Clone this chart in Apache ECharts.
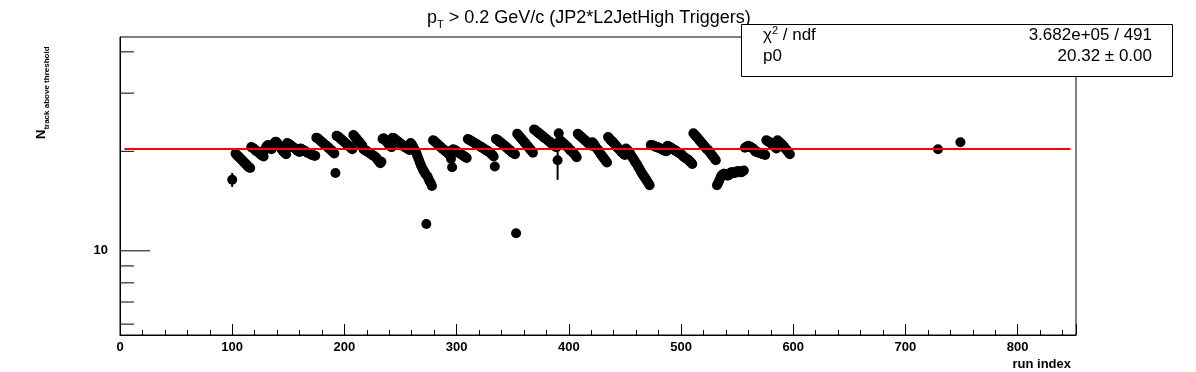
<!DOCTYPE html>
<html><head><meta charset="utf-8">
<script src="https://cdn.jsdelivr.net/npm/echarts@6/dist/echarts.min.js"></script>
<style>html,body{margin:0;padding:0;background:#fff}#c{width:1196px;height:372px}</style>
</head><body><div id="c"></div>
<script>
// ---- data (run index blocks: [first run index, values for consecutive runs]) ----
const runBlocks = [
  [100, [16.4]],
  [103, [19.7,19.5,19.4,19.2,19.1,18.9,18.8,18.6,18.5,18.3,18.2,18.0,17.9,17.8]],
  [117, [20.6,20.5,20.4,20.3,20.1,20.0,19.9,19.8,19.6,19.5,19.4,19.3]],
  [129, [20.2,20.5,20.8,20.9,20.7,20.5,20.3]],
  [136, [20.6,21.0,21.3,21.4,21.2,21.0,20.8,20.6,20.3,20.1,19.9,19.8,19.6]],
  [149, [21.2,21.1,21.0,20.9,20.7,20.6,20.5,20.4,20.3,20.1,20.0,19.9]],
  [161, [20.4,20.3,20.2,20.1,20.0,19.9,19.8,19.8,19.7,19.6,19.5,19.5,19.4,19.4]],
  [175, [22.0,21.9,21.8,21.6,21.5,21.3,21.2,21.0,20.9,20.8,20.6,20.5,20.3,20.2,20.0,19.9,19.7]],
  [192, [17.2]],
  [193, [22.3,22.2,22.1,21.9,21.8,21.6,21.5,21.3,21.2,21.0,20.9,20.8,20.6,20.5,20.3]],
  [208, [22.4,22.2,22.0,21.8,21.6,21.4,21.2,21.0,20.8]],
  [217, [20.3,20.2,20.1,20.0,19.9,19.8,19.7,19.6,19.5,19.4,19.3,19.2,19.0,18.8,18.6,18.4,18.6]],
  [234, [21.8,21.9,21.7,21.5,21.3,21.1,20.9,20.8,20.6]],
  [243, [22.0,21.9,21.8,21.6,21.5,21.4,21.2,21.1,21.0,20.8,20.7,20.6,20.5,20.4,20.3,20.2]],
  [259, [21.2,21.0,20.7,20.4,20.1,19.8,19.4,19.0,18.6,18.2,17.9,17.6,17.4,17.1,12.05,16.8,16.5,16.2,16.0,15.7]],
  [279, [21.6,21.5,21.3,21.2,21.0,20.9,20.7,20.6,20.4,20.3,20.2,20.0,19.9,19.8,19.6,20.0,19.0,17.9]],
  [297, [20.3,20.2,20.1,20.0,19.9,19.8,19.7,19.6,19.5,19.4,19.3,19.2,19.1]],
  [310, [21.8,21.7,21.6,21.5,21.4,21.3,21.2,21.1,21.0,20.9,20.8,20.7,20.6,20.5,20.4,20.3,20.2,20.1,20.0,19.9,19.8,19.6,19.5,19.3]],
  [334, [18.0]],
  [335, [21.8,21.7,21.6,21.4,21.3,21.2,21.0,20.9,20.8,20.6,20.5,20.3,20.2,20.1,19.9,19.8,19.7,19.6]],
  [353, [11.3]],
  [354, [22.6,22.4,22.2,22.0,21.8,21.6,21.4,21.2,21.0,20.8,20.6,20.4,20.2,20.0,19.8]],
  [369, [23.3,23.2,23.0,22.9,22.7,22.6,22.5,22.3,22.2,22.0,21.9,21.8,21.6,21.5,21.4,21.2,21.1,21.0,20.8,20.7,20.6]],
  [390, [18.8,22.7]],
  [392, [21.6,21.5,21.3,21.2,21.0,20.9,20.7,20.6,20.4,20.2,20.1,19.9,19.8,19.6,19.4,19.2]],
  [408, [22.6,22.4,22.3,22.1,22.0,21.8,21.7,21.5,21.4,21.2,21.1,20.9,20.8]],
  [421, [21.3,21.1,20.9,20.6,20.4,20.2,20.0,19.7,19.5,19.3,19.1,18.9,18.7,18.5]],
  [435, [22.1,21.9,21.7,21.5,21.4,21.2,21.0,20.8,20.6,20.4,20.3,20.1,19.9,19.8,19.6,19.5]],
  [451, [20.4,20.2,20.0,19.8,19.6,19.3,19.1,18.9,18.6,18.4,18.2,17.9,17.7,17.4,17.2,17.0,16.8,16.6,16.4,16.2,16.0,15.8]],
  [473, [20.9,20.9,20.8,20.8,20.7,20.6,20.6,20.5,20.4,20.4,20.3,20.2,20.1,20.1,20.0]],
  [488, [20.8,20.7,20.6,20.5,20.4,20.3,20.2,20.1,20.0,19.9,19.8,19.7,19.6,19.5,19.3,19.2,19.1,19.0,18.9,18.8,18.6,18.5,18.3]],
  [511, [22.7,22.5,22.3,22.1,21.9,21.7,21.5,21.3,21.1,20.9,20.7,20.5,20.3,20.2]],
  [525, [20.0,19.8,19.6,19.4,19.2,19.0,18.8]],
  [532, [15.8,16.0,16.3,16.6,16.9,17.0,17.1,17.1,17.0,16.9,16.9,17.0,17.2,17.3,17.3,17.2,17.2,17.3,17.4,17.4,17.4,17.3,17.3,17.4,17.5]],
  [557, [20.5,20.6,20.7,20.8,20.7,20.6,20.5,20.4,20.3]],
  [566, [20.0,19.9,19.9,19.8,19.8,19.7,19.7,19.6,19.6,19.5]],
  [576, [21.6,21.5,21.4,21.3,21.2,21.0,20.9,20.8,20.6,20.4]],
  [586, [21.6,21.4,21.3,21.1,21.0,20.8,20.6,20.4,20.2,20.0,19.8,19.6]],
  [729, [20.3]],
  [749, [21.3]]
];
const defaultErr = 0.1;
const errRuns   = [100, 234, 390, 391];
const errValues = [0.8, 0.6, 2.4, 0.5];
const fitValue = 20.32;
const fitRange = [4, 847];
const yTickValues = [6, 7, 8, 9, 10, 20, 30, 40];
const yLabelValues = [10];
const xRange = [0, 852];
const yRange = [5.563, 44.36];
const titleText = ' > 0.2 GeV/c (JP2*L2JetHigh Triggers)';
const statRows = [['chi2ndf', '3.682e+05 / 491'], ['p0', '20.32 \u00b1 0.00']];

// ---- build ----
const points = [];
runBlocks.forEach(([start, vals]) => vals.forEach((v, k) => points.push([start + k, v])));
const errData = points.map(p => {
  const j = errRuns.indexOf(p[0]);
  const e = j >= 0 ? errValues[j] : defaultErr;
  return [p[0], p[1], e];
});
const F = 'Liberation Sans, Arial, Helvetica, sans-serif';

const chart = echarts.init(document.getElementById('c'), null, {renderer: 'canvas'});
chart.setOption({
  animation: false,
  backgroundColor: '#fff',
  title: {
    text: '{a|p}{b|T}{a|' + titleText + '}',
    left: 422, top: 2,
    textStyle: {
      fontWeight: 'normal',
      rich: {
        a: {fontFamily: F, fontSize: 18, fontWeight: 'normal', color: '#000', lineHeight: 23},
        b: {fontFamily: F, fontSize: 11, fontWeight: 'normal', color: '#000', lineHeight: 9, verticalAlign: 'bottom'}
      }
    }
  },
  grid: {left: 120, right: 120, top: 37, bottom: 37, show: true, borderColor: '#000', borderWidth: 1, backgroundColor: 'transparent'},
  xAxis: {
    type: 'value', min: xRange[0], max: xRange[1], interval: 100,
    axisLine: {lineStyle: {color: '#000', width: 1}},
    axisTick: {inside: true, length: 11, lineStyle: {color: '#000'}},
    minorTick: {show: true, splitNumber: 5, length: 5, lineStyle: {color: '#000'}},
    splitLine: {show: false},
    axisLabel: {
      color: '#000', fontFamily: F, fontWeight: 'bold', fontSize: 13, margin: 6,
      formatter: v => (v % 100 === 0 ? String(v) : '')
    },
    name: 'run index', nameLocation: 'end', nameGap: -5,
    nameTextStyle: {color: '#000', fontFamily: F, fontWeight: 'bold', fontSize: 13, align: 'right', verticalAlign: 'top', padding: [23, 0, 0, 0]}
  },
  yAxis: {
    type: 'log', logBase: 10, min: yRange[0], max: yRange[1],
    axisLine: {lineStyle: {color: '#000', width: 1}},
    axisTick: {show: false},
    splitLine: {show: false},
    axisLabel: {
      color: '#000', fontFamily: F, fontWeight: 'bold', fontSize: 13, margin: 12,
      formatter: v => (yLabelValues.some(t => Math.abs(v - t) < 1e-6) ? String(Math.round(v)) : '')
    }
  },
  graphic: [
    {
      type: 'text', x: 41, y: 139, rotation: Math.PI / 2, z: 100,
      style: {
        text: '{n|N}{s|track above threshold}', textAlign: 'left', textVerticalAlign: 'middle',
        rich: {
          n: {fontFamily: F, fontWeight: 'bold', fontSize: 13, lineHeight: 20, fill: '#000', verticalAlign: 'middle'},
          s: {fontFamily: F, fontWeight: 'bold', fontSize: 8, lineHeight: 6, fill: '#000', verticalAlign: 'bottom'}
        }
      }
    },
    {
      type: 'rect', z: 100,
      shape: {x: 741.5, y: 24.5, width: 431, height: 52},
      style: {fill: '#fff', stroke: '#000', lineWidth: 1}
    },
    {
      type: 'text', x: 763, y: 35, z: 101,
      style: {
        text: '{t|\u03c7}{s|2}{t| / ndf}', textAlign: 'left', textVerticalAlign: 'middle',
        rich: {
          t: {fontFamily: F, fontSize: 17, lineHeight: 20, fill: '#000'},
          s: {fontFamily: F, fontSize: 11, lineHeight: 10, fill: '#000', verticalAlign: 'top'}
        }
      }
    },
    {
      type: 'text', x: 763, y: 56, z: 101,
      style: {text: 'p0', font: '17px ' + F, fill: '#000', textAlign: 'left', textVerticalAlign: 'middle'}
    },
    {
      type: 'text', x: 1152, y: 35, z: 101,
      style: {text: statRows[0][1], font: '17px ' + F, fill: '#000', textAlign: 'right', textVerticalAlign: 'middle'}
    },
    {
      type: 'text', x: 1152, y: 56, z: 101,
      style: {text: statRows[1][1], font: '17px ' + F, fill: '#000', textAlign: 'right', textVerticalAlign: 'middle'}
    }
  ],
  series: [
    {
      type: 'custom', name: 'yticks', silent: true, z: 3,
      data: yTickValues.map(v => [0, v]),
      renderItem: (params, api) => {
        const v = api.value(1);
        const p = api.coord([xRange[0], v]);
        const len = yLabelValues.indexOf(v) >= 0 ? 30 : 14;
        return {type: 'line', shape: {x1: p[0], y1: p[1], x2: p[0] + len, y2: p[1]}, style: {stroke: '#000', lineWidth: 1}};
      }
    },
    {
      type: 'custom', name: 'errors', silent: true, z: 4,
      data: errData,
      renderItem: (params, api) => {
        const x = api.value(0), v = api.value(1), e = api.value(2);
        const a = api.coord([x, v - e]);
        const b = api.coord([x, v + e]);
        return {type: 'line', shape: {x1: a[0], y1: a[1], x2: b[0], y2: b[1]}, style: {stroke: '#000', lineWidth: 2}};
      }
    },
    {
      type: 'scatter', name: 'data', z: 5,
      data: points, symbol: 'circle', symbolSize: 10,
      itemStyle: {color: '#000', opacity: 1}
    },
    {
      type: 'line', name: 'fit', z: 6,
      data: [[fitRange[0], fitValue], [fitRange[1], fitValue]],
      symbol: 'none', lineStyle: {color: '#ff0000', width: 2}
    }
  ]
});
</script></body></html>
